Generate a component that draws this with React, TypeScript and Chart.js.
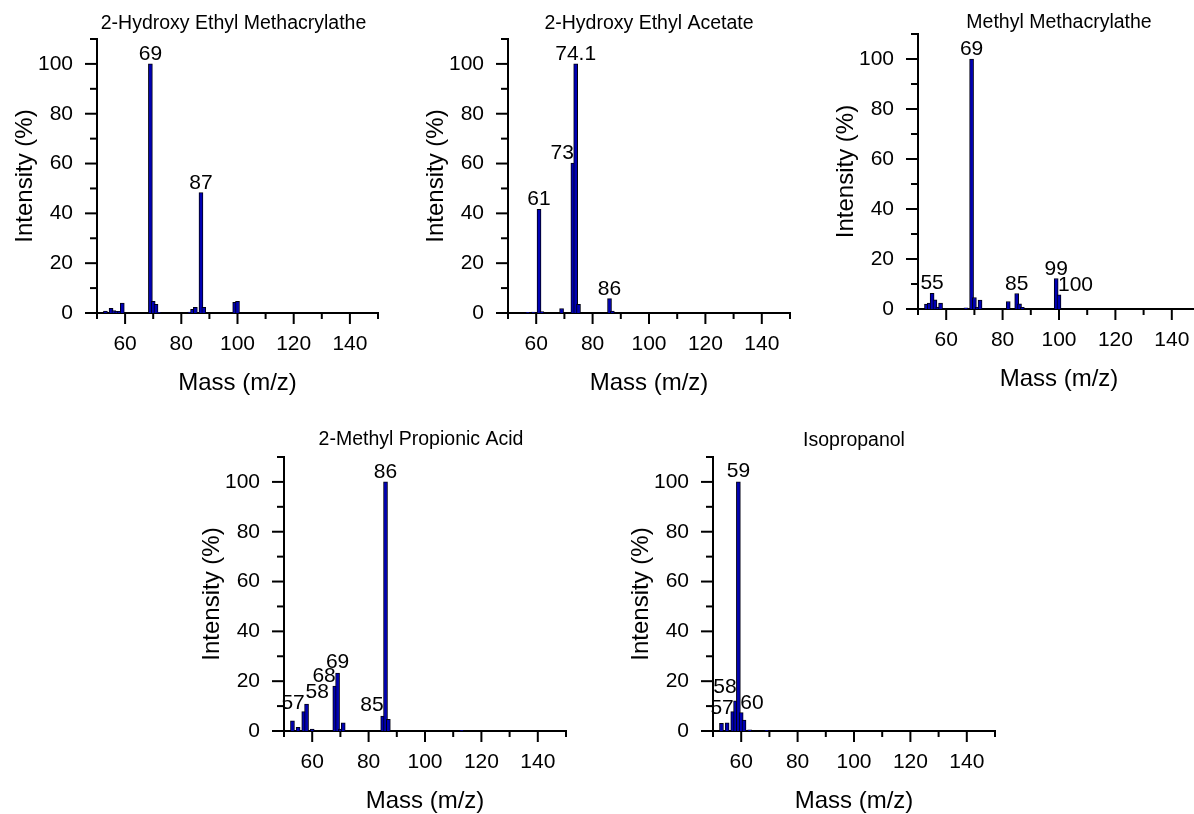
import React, { useEffect, useRef } from 'react';
import { Chart, registerables } from 'chart.js';

Chart.register(...registerables);

const FONT = "'Liberation Sans', Arial, Helvetica, sans-serif";

// ---------- data ----------
const X_MIN = 50;
const X_MAX = 150;
const Y_MIN = 0;
const Y_MAX = 110;
const X_TICK_LABELS = [60, 80, 100, 120, 140];
const Y_TICK_LABELS = [0, 20, 40, 60, 80, 100];
const X_AXIS_TITLE = 'Mass (m/z)';
const Y_AXIS_TITLE = 'Intensity (%)';

// 2-Hydroxy Ethyl Methacrylathe
const hemaMass = [53, 55, 56, 57, 58, 59, 69, 70, 71, 72, 83, 84, 85, 87, 88, 99, 100];
const hemaIntensity = [0.8, 1.9, 1.0, 0.7, 0.7, 4.0, 100, 4.7, 3.5, 0.3, 0.4, 1.5, 2.3, 48.3, 2.3, 4.3, 4.7];
const hemaPeakMass = [69, 87];
const hemaPeakText = ['69', '87'];

// 2-Hydroxy Ethyl Acetate
const heaMass = [57, 59, 61, 62, 69, 73, 74, 75, 86, 87];
const heaIntensity = [0.3, 0.4, 41.6, 0.6, 1.8, 60.2, 100, 3.5, 5.8, 0.8];
const heaPeakMass = [61, 73, 74, 86];
const heaPeakText = ['61', '73', '74.1', '86'];

// Methyl Methacrylathe
const mmaMass = [53, 54, 55, 56, 57, 58, 67, 69, 70, 71, 72, 82, 85, 86, 87, 99, 100];
const mmaIntensity = [2.0, 2.4, 6.3, 3.7, 0.8, 2.4, 0.5, 100, 4.6, 0.7, 3.6, 3.0, 6.2, 2.1, 0.7, 12.2, 5.7];
const mmaPeakMass = [55, 69, 85, 99, 100];
const mmaPeakText = ['55', '69', '85', '99', '100'];

// 2-Methyl Propionic Acid
const mpaMass = [53, 55, 57, 58, 60, 68, 69, 70, 71, 85, 86, 87, 113];
const mpaIntensity = [4.1, 1.5, 7.8, 10.8, 0.8, 18, 23.3, 0.8, 3.3, 6, 100, 4.7, 0.3];
const mpaPeakMass = [57, 58, 68, 69, 85, 86];
const mpaPeakText = ['57', '58', '68', '69', '85', '86'];

// Isopropanol
const ipaMass = [53, 55, 57, 58, 59, 60, 61, 63, 69];
const ipaIntensity = [3.1, 3.3, 7.8, 12.1, 100, 7.4, 4.4, 0.5, 0.3];
const ipaPeakMass = [57, 58, 59, 60];
const ipaPeakText = ['57', '58', '59', '60'];

// ---------- label styling (alignment / nudges) ----------
const hemaPeakAlign = ['center', 'center'];
const heaPeakAlign = ['center', 'right', 'center', 'center'];
const mmaPeakAlign = ['center', 'center', 'center', 'center', 'left'];
const mpaPeakAlign = ['right', 'left', 'right', 'center', 'right', 'center'];
const mpaPeakLift = [3, 6, 4, 5, 5, 4];
const ipaPeakAlign = ['right', 'right', 'center', 'left'];
const ipaPeakLift = [-2, 8, 5, 4];

// ---------- layout ----------
const PAD_L = 96;
const PAD_T = 40;
const PAD_R = 20;
const PAD_B = 100;

type PanelCfg = {
  title: string;
  mass: number[];
  intensity: number[];
  peakMass: number[];
  peakText: string[];
  peakAlign: string[];
  peakLift?: number[];
  plot: { left: number; top: number; width: number; height: number };
  titleDx: number;
  titleDy: number;
};

const panels: PanelCfg[] = [
  {
    title: '2-Hydroxy Ethyl Methacrylathe',
    mass: hemaMass, intensity: hemaIntensity,
    peakMass: hemaPeakMass, peakText: hemaPeakText, peakAlign: hemaPeakAlign,
    plot: { left: 97, top: 39, width: 281, height: 274 },
    titleDx: -4, titleDy: 15,
  },
  {
    title: '2-Hydroxy Ethyl Acetate',
    mass: heaMass, intensity: heaIntensity,
    peakMass: heaPeakMass, peakText: heaPeakText, peakAlign: heaPeakAlign,
    plot: { left: 508, top: 39, width: 282, height: 274 },
    titleDx: 0, titleDy: 15,
  },
  {
    title: 'Methyl Methacrylathe',
    mass: mmaMass, intensity: mmaIntensity,
    peakMass: mmaPeakMass, peakText: mmaPeakText, peakAlign: mmaPeakAlign,
    plot: { left: 918, top: 34, width: 282, height: 275 },
    titleDx: 0, titleDy: 11,
  },
  {
    title: '2-Methyl Propionic Acid',
    mass: mpaMass, intensity: mpaIntensity,
    peakMass: mpaPeakMass, peakText: mpaPeakText, peakAlign: mpaPeakAlign, peakLift: mpaPeakLift,
    plot: { left: 284, top: 457, width: 282, height: 274 },
    titleDx: -4, titleDy: 17,
  },
  {
    title: 'Isopropanol',
    mass: ipaMass, intensity: ipaIntensity,
    peakMass: ipaPeakMass, peakText: ipaPeakText, peakAlign: ipaPeakAlign, peakLift: ipaPeakLift,
    plot: { left: 713, top: 457, width: 282, height: 274 },
    titleDx: 0, titleDy: 16,
  },
];

function Panel({ cfg }: { cfg: PanelCfg }) {
  const ref = useRef<HTMLCanvasElement>(null);
  const w = cfg.plot.width + PAD_L + PAD_R;
  const h = cfg.plot.height + PAD_T + PAD_B;

  useEffect(() => {
    if (!ref.current) return;

    const tickMarks = {
      id: 'tickMarks',
      afterDraw(chart: any) {
        const { ctx, chartArea, scales } = chart;
        const xs = scales.x;
        const ys = scales.y;
        ctx.save();
        ctx.strokeStyle = '#000';
        ctx.lineWidth = 2;
        xs.ticks.forEach((t: any) => {
          const px = xs.getPixelForValue(t.value);
          const len = X_TICK_LABELS.includes(t.value) ? 11 : 6;
          ctx.beginPath();
          ctx.moveTo(px, chartArea.bottom);
          ctx.lineTo(px, chartArea.bottom + len);
          ctx.stroke();
        });
        ys.ticks.forEach((t: any) => {
          const py = ys.getPixelForValue(t.value);
          const len = Y_TICK_LABELS.includes(t.value) ? 12 : 7;
          ctx.beginPath();
          ctx.moveTo(chartArea.left, py);
          ctx.lineTo(chartArea.left - len, py);
          ctx.stroke();
        });
        ctx.restore();
      },
    };

    const peakLabels = {
      id: 'peakLabels',
      afterDatasetsDraw(chart: any) {
        const { ctx, scales } = chart;
        const xs = scales.x;
        const ys = scales.y;
        ctx.save();
        ctx.fillStyle = '#000';
        ctx.font = `21px ${FONT}`;
        ctx.textBaseline = 'alphabetic';
        cfg.peakMass.forEach((m, i) => {
          const idx = cfg.mass.indexOf(m);
          const val = idx >= 0 ? cfg.intensity[idx] : 0;
          const px = xs.getPixelForValue(m);
          const lift = cfg.peakLift ? cfg.peakLift[i] : 4;
          const py = ys.getPixelForValue(val) - lift;
          const align = cfg.peakAlign[i];
          ctx.textAlign = align as CanvasTextAlign;
          const dx = align === 'left' ? -1 : align === 'right' ? 1 : 0;
          ctx.fillText(cfg.peakText[i], px + dx, py);
        });
        ctx.restore();
      },
    };

    const panelTitle = {
      id: 'panelTitle',
      afterDraw(chart: any) {
        const { ctx, chartArea } = chart;
        ctx.save();
        ctx.fillStyle = '#000';
        ctx.font = `19.5px ${FONT}`;
        ctx.textAlign = 'center';
        ctx.textBaseline = 'middle';
        ctx.fillText(cfg.title, (chartArea.left + chartArea.right) / 2 + cfg.titleDx, chartArea.top - cfg.titleDy);
        ctx.restore();
      },
    };

    const chart = new Chart(ref.current, {
      type: 'bar',
      data: {
        datasets: [
          {
            data: cfg.mass.map((m, i) => ({ x: m, y: cfg.intensity[i] })),
            backgroundColor: '#0000b4',
            borderColor: '#000010',
            borderWidth: 1,
            barThickness: 4,
          } as any,
        ],
      },
      options: {
        animation: false,
        responsive: false,
        maintainAspectRatio: false,
        devicePixelRatio: 1,
        events: [],
        layout: { padding: { top: PAD_T, right: PAD_R, left: 0, bottom: 0 } },
        plugins: {
          legend: { display: false },
          tooltip: { enabled: false },
          title: { display: false },
        },
        scales: {
          x: {
            type: 'linear',
            min: X_MIN,
            max: X_MAX,
            offset: false,
            afterFit: (s: any) => { s.height = PAD_B; },
            grid: { display: false, drawTicks: false, tickLength: 0 },
            border: { display: true, color: '#000', width: 2 },
            ticks: {
              stepSize: 10,
              autoSkip: false,
              maxRotation: 0,
              minRotation: 0,
              padding: 19,
              color: '#000',
              font: { family: FONT, size: 21 },
              callback: (v: any) => (X_TICK_LABELS.includes(Number(v)) ? String(v) : ''),
            },
            title: {
              display: true,
              text: X_AXIS_TITLE,
              color: '#000',
              font: { family: FONT, size: 24 },
              padding: { top: 0, bottom: 15 },
            },
          },
          y: {
            type: 'linear',
            min: Y_MIN,
            max: Y_MAX,
            afterFit: (s: any) => { s.width = PAD_L; },
            grid: { display: false, drawTicks: false, tickLength: 0 },
            border: { display: true, color: '#000', width: 2 },
            ticks: {
              stepSize: 10,
              autoSkip: false,
              padding: 24,
              color: '#000',
              font: { family: FONT, size: 21 },
              callback: (v: any) => (Y_TICK_LABELS.includes(Number(v)) ? String(v) : ''),
            },
            title: {
              display: true,
              text: Y_AXIS_TITLE,
              color: '#000',
              font: { family: FONT, size: 24 },
              padding: { top: 10, bottom: 0 },
            },
          },
        },
      } as any,
      plugins: [tickMarks, peakLabels, panelTitle],
    });
    return () => chart.destroy();
  }, []);

  return (
    <div
      style={{
        position: 'absolute',
        left: cfg.plot.left - PAD_L,
        top: cfg.plot.top - PAD_T,
        width: w,
        height: h,
      }}
    >
      <canvas ref={ref} width={w} height={h} style={{ width: w, height: h, display: 'block' }} />
    </div>
  );
}

export default function App() {
  return (
    <div
      style={{
        position: 'absolute',
        left: 0,
        top: 0,
        width: 1194,
        height: 814,
        overflow: 'hidden',
        background: '#fff',
      }}
    >
      {panels.map((p, i) => (
        <Panel key={i} cfg={p} />
      ))}
    </div>
  );
}
